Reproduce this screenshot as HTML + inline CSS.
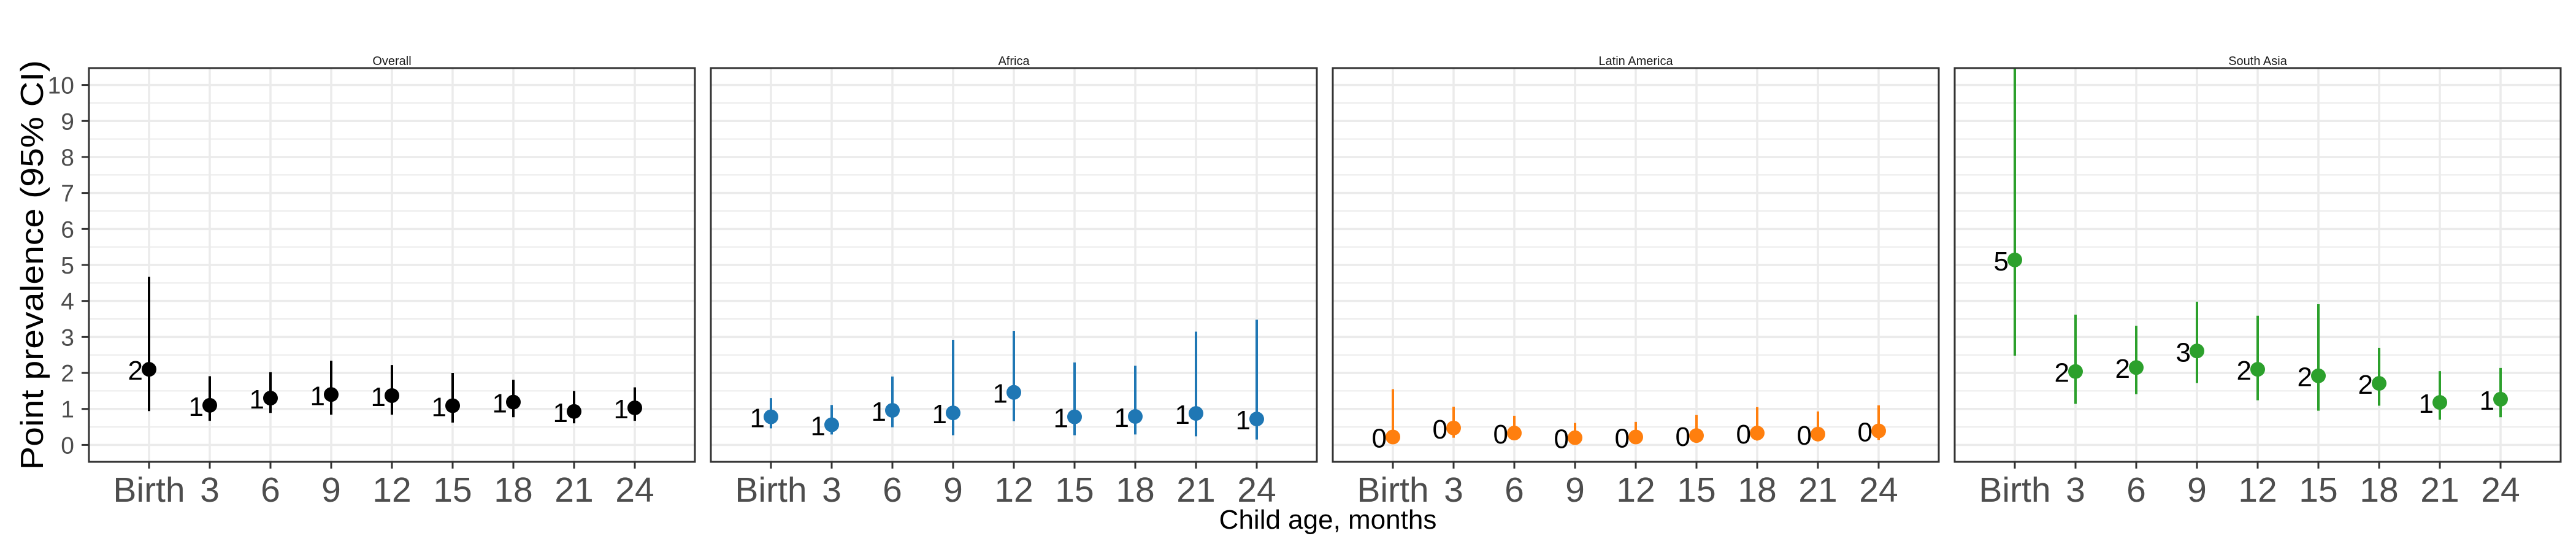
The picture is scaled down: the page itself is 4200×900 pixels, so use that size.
<!DOCTYPE html>
<html><head><meta charset="utf-8"><style>
html,body{margin:0;padding:0;background:#fff;}
svg{display:block;font-family:"Liberation Sans",Arial,sans-serif;}
</style></head><body>
<svg id="chart" width="4200" height="900" viewBox="0 0 4200 900" xmlns="http://www.w3.org/2000/svg"></svg>
<script>
const categories = ["Birth","3","6","9","12","15","18","21","24"];
const panelNames = ["Overall","Africa","Latin America","South Asia"];
const panelColors = ["#000000","#1f77b4","#ff7f0e","#2ca02c"];
const yTicks = [0,1,2,3,4,5,6,7,8,9,10];
const overallEst = [2.1,1.1,1.3,1.4,1.37,1.09,1.19,0.93,1.03];
const overallLo  = [0.94,0.67,0.89,0.84,0.84,0.62,0.77,0.6,0.67];
const overallHi  = [4.67,1.91,2.02,2.34,2.22,2.0,1.81,1.5,1.6];
const africaEst = [0.78,0.56,0.96,0.89,1.46,0.78,0.79,0.875,0.72];
const africaLo  = [0.46,0.29,0.49,0.27,0.66,0.27,0.29,0.24,0.15];
const africaHi  = [1.30,1.11,1.90,2.92,3.16,2.29,2.2,3.15,3.48];
const latamEst = [0.22,0.47,0.33,0.2,0.22,0.26,0.33,0.30,0.39];
const latamLo  = [0.03,0.2,0.15,0.02,0.03,0.07,0.12,0.11,0.14];
const latamHi  = [1.55,1.06,0.81,0.61,0.64,0.83,1.05,0.93,1.1];
const asiaEst = [5.14,2.04,2.15,2.61,2.1,1.92,1.71,1.18,1.27];
const asiaLo  = [2.48,1.14,1.41,1.72,1.24,0.95,1.09,0.7,0.77];
const asiaHi  = [10.45,3.62,3.31,3.98,3.59,3.91,2.7,2.05,2.14];

const est=[overallEst,africaEst,latamEst,asiaEst];
const lo=[overallLo,africaLo,latamLo,asiaLo];
const hi=[overallHi,africaHi,latamHi,asiaHi];

const NS="http://www.w3.org/2000/svg";
const svg=document.getElementById('chart');
function mk(tag,attrs,parent){const e=document.createElementNS(NS,tag);for(const k in attrs)e.setAttribute(k,attrs[k]);(parent||svg).appendChild(e);return e;}

const PW=988, PTOP=111, PBOT=753, GAP=1014, P0=145;
const yMin=-0.47, yMax=10.47;
function yS(v){return PBOT-(v-yMin)/(yMax-yMin)*(PBOT-PTOP);}
function xS(p,i){return P0+p*GAP+98+i*99;}

for(let p=0;p<4;p++){
  const L=P0+p*GAP;
  const g=mk('g',{});
  
  
  mk('rect',{x:L,y:PTOP,width:PW,height:PBOT-PTOP,fill:'#fff'},g);
  for(let v=0.5;v<10.5;v+=1){mk('line',{x1:L,x2:L+PW,y1:yS(v),y2:yS(v),stroke:'#ebebeb','stroke-width':2},g);}
  for(const v of yTicks){mk('line',{x1:L,x2:L+PW,y1:yS(v),y2:yS(v),stroke:'#ebebeb','stroke-width':3.5},g);}
  categories.forEach((c,i)=>{mk('line',{x1:xS(p,i),x2:xS(p,i),y1:PTOP,y2:PBOT,stroke:'#ebebeb','stroke-width':3.5},g);});
  const t=mk('text',{x:L+PW/2,y:106,'text-anchor':'middle','font-size':20,fill:'#1a1a1a'},g);
  t.textContent=panelNames[p];
  
  
  categories.forEach((c,i)=>{
    const x=xS(p,i);
    const ln=mk('line',{x1:x,x2:x,y1:yS(Math.min(hi[p][i],yMax)),y2:yS(lo[p][i]),stroke:panelColors[p],'stroke-width':4},g);
    
    
    const pt=mk('circle',{cx:x,cy:yS(est[p][i]),r:12,fill:panelColors[p]},g);
    
    
    const lb=mk('text',{x:x-10,y:yS(est[p][i])+17,'text-anchor':'end','font-size':44,fill:'#000'},g);
    lb.textContent=String(Math.round(est[p][i]));
    
    
  });
  mk('rect',{x:L,y:PTOP,width:PW,height:PBOT-PTOP,fill:'none',stroke:'#333','stroke-width':3},g);
  categories.forEach((c,i)=>{
    const x=xS(p,i);
    mk('line',{x1:x,x2:x,y1:PBOT,y2:PBOT+11,stroke:'#333','stroke-width':3},g);
    const tl=mk('text',{x:x,y:818,'text-anchor':'middle','font-size':57,fill:'#4d4d4d'},g);
    tl.textContent=c;
    
    
  });
}
for(const v of yTicks){
  mk('line',{x1:133,x2:145,y1:yS(v),y2:yS(v),stroke:'#333','stroke-width':3});
  const tl=mk('text',{x:121,y:yS(v)+14,'text-anchor':'end','font-size':39,fill:'#4d4d4d'});
  tl.textContent=String(v);
  
  
}
const yt=mk('text',{x:0,y:0,'text-anchor':'middle','font-size':52,fill:'#000',transform:'translate(70,432) rotate(-90)',textLength:668,lengthAdjust:'spacingAndGlyphs'});
yt.textContent='Point prevalence (95% CI)';


const xt=mk('text',{x:2165,y:862,'text-anchor':'middle','font-size':44,fill:'#000'});
xt.textContent='Child age, months';


</script>
</body></html>
